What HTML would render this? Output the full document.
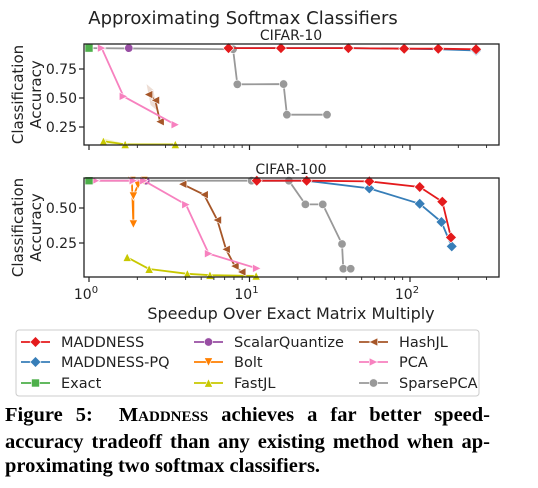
<!DOCTYPE html>
<html><head><meta charset="utf-8"><style>
body{margin:0;background:#fff;width:538px;height:488px;overflow:hidden}
svg text{font-family:"DejaVu Sans","Liberation Sans",sans-serif}
#cap{position:absolute;left:5px;top:403px;width:485px;font-family:"Liberation Serif",serif;font-weight:bold;font-size:20.5px;line-height:24.5px;text-align:justify;color:#000}
</style></head><body>
<svg id="chart" width="538" height="400" style="position:absolute;left:0;top:0"></svg>
<div id="cap">Figure 5:&nbsp; M<span style="font-size:15px">ADDNESS</span> achieves a far better speed-accuracy tradeoff than any existing method when ap-proximating two softmax classifiers.</div>
<script>
const methods=["MADDNESS","MADDNESS-PQ","Exact","ScalarQuantize","Bolt","FastJL","HashJL","PCA","SparsePCA"];
const colors=["#e41a1c","#377eb8","#4daf4a","#984ea3","#ff7f00","#c8c800","#a65628","#f781bf","#999999"];
const markers=["D","D","s","o","v","^","<",">","o"];
const c10X={"SparsePCA":[1,7.9,8.4,16.3,17.1,30.4],"MADDNESS-PQ":[7.4,15.7,41.3,92,150,258],"MADDNESS":[7.4,15.7,41.3,92,150,258],"Exact":[1],"ScalarQuantize":[1.77],"PCA":[1.2,1.64,3.45],"HashJL":[2.35,2.59,2.77],"FastJL":[1.23,1.68,3.45],"Bolt":[]};
const c10Y={"SparsePCA":[0.93,0.92,0.618,0.62,0.356,0.356],"MADDNESS-PQ":[0.93,0.93,0.93,0.925,0.92,0.91],"MADDNESS":[0.93,0.93,0.93,0.925,0.925,0.92],"Exact":[0.93],"ScalarQuantize":[0.93],"PCA":[0.93,0.514,0.27],"HashJL":[0.53,0.48,0.296],"FastJL":[0.127,0.10,0.10],"Bolt":[]};
const c10Band={"HashJL":[0.09,0.09,0.06],"FastJL":[0.03,0.01,0.0]};
const c100X={"SparsePCA":[1,10.3,17.6,22.3,28.6,37.7,38.4,42.7],"MADDNESS-PQ":[11.1,22.7,55.8,115,157,182],"MADDNESS":[11.1,22.7,55.8,115,159,180],"Exact":[1],"ScalarQuantize":[2.26],"PCA":[1.1,1.89,2.2,4.02,5.57,11.1],"HashJL":[3.83,5.21,6.3,7.14,8.1,8.94],"FastJL":[1.73,2.37,4.1,5.67,11],"Bolt":[1.85,1.89,1.89,2.02,2.2]};
const c100Y={"SparsePCA":[0.695,0.695,0.695,0.526,0.526,0.243,0.066,0.066],"MADDNESS-PQ":[0.695,0.695,0.64,0.53,0.40,0.226],"MADDNESS":[0.695,0.695,0.69,0.65,0.545,0.29],"Exact":[0.695],"ScalarQuantize":[0.695],"PCA":[0.695,0.695,0.695,0.524,0.174,0.069],"HashJL":[0.67,0.595,0.414,0.205,0.085,0.043],"FastJL":[0.148,0.064,0.03,0.02,0.015],"Bolt":[0.695,0.385,0.585,0.665,0.695]};
const c100Band={};
const yTicks10=[0.25,0.5,0.75];const yTicks100=[0.25,0.5];
const NS="http://www.w3.org/2000/svg";const svg=document.getElementById('chart');
function mk(t,a,p){const e=document.createElementNS(NS,t);for(const k in a)e.setAttribute(k,a[k]);(p||svg).appendChild(e);return e;}
const X0=84,X1=499;
function xs(v){return 89+160.5*Math.log10(v);}
const panels=[{name:"cifar-10",title:"CIFAR-10",top:44,bot:145,ys:v=>127-(v-0.25)*116,ticks:yTicks10,fmt:v=>v.toFixed(2),X:c10X,Y:c10Y,B:c10Band,lab:false},
{name:"cifar-100",title:"CIFAR-100",top:178,bot:277,ys:v=>243-(v-0.25)*140,ticks:yTicks100,fmt:v=>v.toFixed(2),X:c100X,Y:c100Y,B:c100Band,lab:true}];
function marker(g,m,x,y,c){let e;const s=4.2;
if(m=="D")e=mk('polygon',{points:`${x},${y-s*1.3} ${x+s*1.3},${y} ${x},${y+s*1.3} ${x-s*1.3},${y}`},g);
else if(m=="s")e=mk('rect',{x:x-4,y:y-4,width:8,height:8},g);
else if(m=="o")e=mk('circle',{cx:x,cy:y,r:4.2},g);
else{let p;if(m=="v")p=[[x-s,y-s],[x+s,y-s],[x,y+s]];else if(m=="^")p=[[x-s,y+s],[x+s,y+s],[x,y-s]];else if(m=="<")p=[[x+s,y-s],[x+s,y+s],[x-s,y]];else p=[[x-s,y-s],[x-s,y+s],[x+s,y]];
e=mk('polygon',{points:p.map(q=>q.join(',')).join(' ')},g);}
e.setAttribute('fill',c);e.setAttribute('stroke','#fff');e.setAttribute('stroke-width','0.6');return e;}
const title=mk('text',{x:243,y:24,'font-size':18,'text-anchor':'middle',fill:'#222'});title.textContent="Approximating Softmax Classifiers";

panels.forEach(P=>{
 const g=mk('g',{});
 const t=mk('text',{x:291,y:P.top-4,'font-size':14,'text-anchor':'middle',fill:'#222'},g);t.textContent=P.title;
 
 const order=["SparsePCA","ScalarQuantize","Bolt","FastJL","HashJL","PCA","MADDNESS-PQ","MADDNESS","Exact"];
 order.forEach(mn=>{const i=methods.indexOf(mn);const xsArr=P.X[mn],ysArr=P.Y[mn];if(!xsArr.length)return;
  const sg=mk('g',{},g);
  const pts=xsArr.map((x,j)=>[xs(x),P.ys(ysArr[j])]);
  if(P.B[mn]){const bw=P.B[mn];const up=xsArr.map((x,j)=>[xs(x)-2,P.ys(ysArr[j]+bw[j])]);const dn=xsArr.map((x,j)=>[xs(x)+2,P.ys(ysArr[j]-bw[j])]).reverse();
   const band=mk('polygon',{points:up.concat(dn).map(p=>p.join(',')).join(' '),fill:colors[i],'fill-opacity':0.2},sg);}
  if(pts.length>1){const l=mk('polyline',{points:pts.map(p=>p.join(',')).join(' '),fill:'none',stroke:colors[i],'stroke-width':1.8,'stroke-linejoin':'round'},sg);}
  pts.forEach(p=>{const m=marker(sg,markers[i],p[0],p[1],colors[i]);});
 });
 const fr=mk('rect',{x:X0,y:P.top,width:X1-X0,height:P.bot-P.top,fill:'none',stroke:'#222','stroke-width':1.3},g);
 
 P.ticks.forEach(v=>{const y=P.ys(v);mk('line',{x1:X0-5,x2:X0,y1:y,y2:y,stroke:'#222','stroke-width':1.2},g);
  const tl=mk('text',{x:X0-7,y:y+5,'font-size':14,'text-anchor':'end',fill:'#222'},g);tl.textContent=P.fmt(v);
  });
 for(let d=0;d<3;d++)for(let k=1;k<10;k++){const v=k*Math.pow(10,d);const x=xs(v);if(x>X1)continue;
  mk('line',{x1:x,x2:x,y1:P.bot,y2:P.bot+(k==1?5:3),stroke:'#222','stroke-width':k==1?1.2:0.9},g);
  if(k==1&&P.lab){const tl=mk('text',{x:x-3,y:P.bot+22,'font-size':14,'text-anchor':'middle',fill:'#222'},g);tl.textContent='10';
   const s=mk('tspan',{dy:-6,'font-size':10},tl);s.textContent=String(d);}}
 const yl=mk('text',{transform:`translate(23,${(P.top+P.bot)/2}) rotate(-90)`,'font-size':15,'text-anchor':'middle',fill:'#222'},g);
 const a=mk('tspan',{x:0,dy:0},yl);a.textContent="Classification";const b=mk('tspan',{x:0,dy:18},yl);b.textContent="Accuracy";
 
});
const xt=mk('text',{x:291,y:319,'font-size':16,'text-anchor':'middle',fill:'#222'});xt.textContent="Speedup Over Exact Matrix Multiply";

const lg=mk('g',{});
mk('rect',{x:16,y:330,width:463,height:66,rx:3,fill:'#fff',stroke:'#ccc','stroke-width':1},lg);
const cols=[21,194,359],tx=[61,234,399],rows=[342,362,383];
methods.forEach((mn,i)=>{const c=Math.floor(i/3),r=i%3;const e=mk('g',{},lg);
 
 mk('line',{x1:cols[c],x2:cols[c]+29,y1:rows[r],y2:rows[r],stroke:colors[i],'stroke-width':1.8},e);
 marker(e,markers[i],cols[c]+14.5,rows[r],colors[i]);
 const t=mk('text',{x:tx[c],y:rows[r]+5,'font-size':14.5,fill:'#222'},e);t.textContent=mn;});
</script>
</body></html>
